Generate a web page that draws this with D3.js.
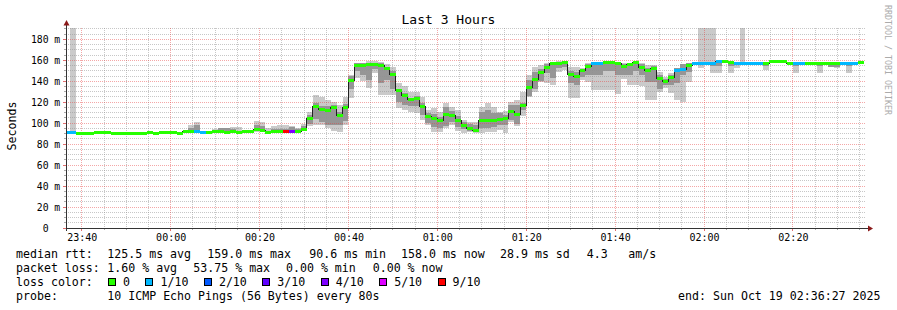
<!DOCTYPE html>
<html>
<head>
<meta charset="utf-8">
<script src="https://cdn.jsdelivr.net/npm/d3@7"></script>
<style>
  body { margin: 0; background: #fff; }
  svg text { font-family: "DejaVu Sans Mono", monospace; fill: #000; }
</style>
</head>
<body>
<div class="canvas"></div>
<script>
// time window and rrd step (80s, one value per step)
const startTime = new Date(2025, 9, 18, 23, 36, 27)
const endTime = new Date(2025, 9, 19, 2, 36, 27)
const firstStep = new Date(2025, 9, 18, 23, 36, 0)
const stepSec = 80

// median rtt per step (ms)
const median = [
  91.0, 91.0, 90.6, 90.6, 90.6, 91.2, 91.2, 91.2, 90.6, 90.6,
  90.6, 90.6, 90.6, 90.6, 91.2, 90.6, 91.2, 91.2, 91.2, 90.6,
  91.6, 92.2, 92.2, 91.0, 91.2, 92.0, 91.8, 91.5, 92.0, 91.5,
  91.6, 91.8, 93.6, 92.8, 91.5, 91.6, 91.6, 91.6, 91.6, 92.3,
  94.3, 104.0, 115.8, 113.0, 112.3, 114.8, 107.8, 115.2, 140.8, 155.5,
  155.3, 156.0, 156.0, 155.5, 152.0, 146.7, 130.8, 126.3, 122.2, 123.3,
  116.0, 106.3, 104.8, 102.2, 108.4, 107.5, 102.8, 97.8, 94.5, 93.2,
  102.8, 103.0, 102.5, 103.3, 104.0, 111.5, 108.6, 117.0, 134.5, 141.5,
  148.5, 153.5, 156.5, 157.0, 157.5, 146.3, 144.4, 150.2, 154.0, 157.4,
  157.4, 158.3, 158.3, 156.5, 153.6, 155.8, 158.2, 153.5, 149.8, 152.0,
  142.3, 139.5, 143.5, 150.0, 151.5, 155.0, 157.4, 157.4, 157.4, 157.4,
  159.0, 158.8, 157.8, 157.4, 157.4, 157.4, 157.4, 157.4, 157.4, 158.6,
  158.6, 158.6, 157.4, 157.4, 157.4, 157.4, 157.4, 157.4, 157.4, 157.4,
  157.4, 157.4, 157.4, 157.4, 158.0
]

// lost pings out of 10 per step
const loss = [
  1, 1, 0, 0, 0, 0, 0, 0, 0, 0,
  0, 0, 0, 0, 0, 0, 0, 0, 0, 0,
  0, 0, 1, 1, 0, 0, 0, 0, 0, 0,
  0, 0, 0, 0, 0, 0, 0, 9, 4, 0,
  0, 0, 0, 0, 0, 0, 0, 0, 0, 0,
  0, 0, 0, 0, 0, 0, 0, 0, 0, 0,
  0, 0, 0, 0, 0, 0, 0, 0, 0, 0,
  0, 0, 0, 0, 0, 0, 0, 0, 0, 0,
  0, 0, 0, 0, 0, 0, 0, 0, 0, 1,
  1, 0, 0, 0, 0, 0, 0, 0, 0, 0,
  0, 0, 0, 1, 1, 0, 1, 1, 1, 1,
  1, 0, 0, 1, 1, 1, 1, 1, 0, 0,
  0, 0, 0, 1, 1, 0, 0, 0, 0, 0,
  0, 1, 1, 1, 0
]

// smoke: slowest / fastest ping and the inner band
const smokeMin = [
  91.0, 91.0, 90.6, 90.6, 90.6, 91.2, 91.2, 91.2, 90.6, 90.6,
  90.6, 90.6, 90.6, 90.6, 91.2, 90.6, 91.2, 91.2, 91.2, 90.6,
  91.0, 91.5, 91.5, 91.0, 91.2, 91.5, 91.0, 91.0, 91.0, 90.8,
  91.0, 91.0, 92.0, 91.5, 91.0, 91.0, 91.0, 91.0, 91.0, 91.5,
  92.5, 97.5, 98.5, 98.5, 95.2, 93.0, 91.5, 98.4, 124.0, 143.0,
  140.0, 133.3, 147.6, 127.0, 127.0, 127.0, 114.5, 112.7, 111.0, 109.5,
  103.2, 98.4, 92.0, 92.0, 95.2, 98.4, 92.5, 91.0, 92.0, 90.5,
  91.0, 92.0, 92.0, 93.6, 91.0, 101.6, 97.0, 106.4, 125.4, 130.0,
  139.7, 138.0, 136.5, 149.0, 150.8, 124.0, 124.0, 141.0, 139.7, 132.0,
  132.0, 132.0, 132.0, 127.5, 142.0, 136.5, 136.5, 135.0, 122.2, 122.2,
  130.0, 133.3, 128.5, 122.0, 120.6, 139.7, 156.0, 153.0, 156.0, 148.0,
  147.6, 157.0, 148.0, 153.0, 156.5, 157.0, 156.8, 157.0, 151.0, 158.0,
  157.0, 158.0, 157.0, 148.0, 157.0, 157.0, 157.0, 148.0, 157.0, 154.0,
  153.0, 157.0, 147.5, 157.0, 157.6
]
const smokeLo = [
  91.0, 91.0, 90.6, 90.6, 90.6, 91.2, 91.2, 91.2, 90.6, 90.6,
  90.6, 90.6, 90.6, 90.6, 91.2, 90.6, 91.2, 91.2, 91.2, 90.6,
  91.2, 92.0, 92.0, 91.0, 91.2, 91.8, 91.5, 91.2, 91.5, 91.0,
  91.2, 91.5, 93.0, 92.0, 91.2, 91.3, 91.3, 91.3, 91.3, 92.0,
  93.0, 99.0, 104.0, 101.6, 98.4, 98.4, 98.0, 102.0, 133.0, 150.0,
  146.0, 141.0, 152.0, 138.0, 141.0, 133.0, 120.0, 117.5, 116.0, 116.0,
  108.0, 100.0, 96.0, 95.0, 97.0, 101.6, 96.0, 94.0, 93.0, 92.0,
  95.0, 95.0, 96.0, 98.4, 98.4, 103.0, 99.0, 112.7, 126.0, 133.0,
  140.0, 148.0, 142.8, 153.0, 154.0, 138.0, 136.0, 144.0, 146.0, 146.0,
  146.0, 150.0, 150.0, 146.0, 146.0, 146.0, 150.0, 146.0, 139.7, 139.7,
  133.0, 136.0, 136.0, 138.0, 146.0, 149.0, 157.0, 156.0, 157.0, 155.0,
  155.0, 158.0, 155.0, 156.0, 157.0, 157.2, 157.0, 157.2, 155.0, 158.3,
  158.0, 158.3, 157.2, 155.0, 157.2, 157.2, 157.2, 155.0, 157.2, 154.0,
  154.0, 157.2, 155.0, 157.2, 157.8
]
const smokeHi = [
  91.0, 91.0, 90.6, 90.6, 90.6, 91.2, 91.2, 91.2, 90.6, 90.6,
  90.6, 90.6, 90.6, 90.6, 91.2, 90.6, 91.2, 91.2, 91.2, 90.6,
  93.0, 95.5, 98.5, 91.0, 91.2, 93.0, 95.0, 95.0, 94.0, 93.0,
  92.5, 93.5, 98.0, 97.5, 93.0, 94.0, 94.5, 94.0, 96.0, 94.5,
  97.0, 108.0, 119.0, 116.0, 116.0, 117.0, 111.0, 118.0, 145.0, 157.0,
  157.0, 157.5, 157.5, 157.0, 154.0, 150.0, 133.0, 129.0, 124.0, 126.0,
  119.0, 110.0, 109.0, 106.0, 115.0, 112.0, 107.0, 101.0, 99.0, 98.0,
  111.0, 112.7, 109.5, 109.5, 108.0, 117.0, 117.0, 119.0, 141.0, 149.0,
  152.0, 156.5, 157.5, 158.0, 158.0, 150.0, 149.0, 151.0, 156.0, 157.4,
  157.0, 158.3, 158.3, 157.0, 156.0, 156.0, 158.2, 156.0, 153.0, 155.0,
  146.0, 142.0, 146.0, 152.3, 156.0, 157.0, 157.8, 158.0, 158.0, 158.0,
  159.0, 159.0, 158.0, 157.8, 158.0, 157.8, 157.8, 157.6, 158.0, 158.8,
  158.8, 158.8, 157.6, 158.0, 157.6, 157.6, 157.6, 158.0, 157.6, 158.0,
  158.0, 157.6, 158.0, 157.6, 158.2
]
const smokeMax = [
  91.0, 195.0, 90.6, 90.6, 90.6, 91.2, 91.2, 91.2, 90.6, 90.6,
  90.6, 90.6, 90.6, 90.6, 91.2, 90.6, 91.2, 91.2, 91.2, 90.6,
  93.5, 98.5, 101.5, 91.0, 91.2, 94.0, 95.5, 95.5, 96.5, 96.5,
  93.0, 93.5, 101.7, 101.5, 95.5, 97.0, 98.0, 98.0, 97.0, 95.5,
  99.0, 110.5, 127.0, 125.0, 122.0, 120.5, 117.0, 125.4, 146.0, 157.5,
  157.5, 159.0, 159.0, 158.0, 156.0, 154.0, 138.0, 135.0, 130.0, 130.0,
  125.4, 112.7, 114.3, 111.0, 119.0, 115.8, 112.7, 103.2, 101.6, 101.6,
  115.8, 119.0, 115.8, 111.0, 111.7, 120.6, 122.0, 130.0, 146.0, 154.0,
  155.6, 157.3, 158.0, 159.0, 158.5, 154.0, 154.0, 152.5, 157.3, 157.5,
  157.5, 158.5, 158.5, 157.0, 157.0, 157.0, 158.5, 157.5, 155.6, 155.6,
  149.0, 144.4, 147.6, 153.0, 156.5, 157.5, 158.0, 195.0, 195.0, 195.0,
  159.5, 159.2, 158.3, 158.0, 195.0, 158.0, 158.0, 157.8, 158.0, 159.0,
  159.0, 159.0, 157.8, 158.0, 157.8, 157.8, 157.8, 158.0, 157.8, 158.0,
  158.0, 157.8, 158.0, 157.8, 158.4
]

// loss colour legend
const lossEdges = [0, 1, 2, 3, 4, 5, 9]
const lossLabels = ['0', '1/10', '2/10', '3/10', '4/10', '5/10', '9/10']
const lossColors = ['#26ff00', '#00b8ff', '#0059ff', '#5e00ff', '#7e00ff', '#dd00ff', '#ff0000']

const yTicks = [0, 20, 40, 60, 80, 100, 120, 140, 160, 180]

const dims = { width: 897, height: 310, left: 66, right: 866, top: 28, bottom: 228 }

const svg = d3.select('.canvas').append('svg')
  .attr('width', dims.width)
  .attr('height', dims.height)

const x = d3.scaleTime()
  .domain([startTime, endTime])
  .range([dims.left, dims.right])

const y = d3.scaleLinear()
  .domain([0, 190.8])
  .range([dims.bottom, dims.top])

const px = v => Math.floor(v) + 0.5

svg.append('clipPath').attr('id', 'plot')
  .append('rect')
  .attr('x', dims.left + 1).attr('y', dims.top)
  .attr('width', dims.right - dims.left - 1).attr('height', dims.bottom - dims.top)

const steps = median.map((m, i) => ({
  i,
  t0: new Date(firstStep.getTime() + i * stepSec * 1000),
  t1: new Date(firstStep.getTime() + (i + 1) * stepSec * 1000),
  median: m,
  loss: loss[i],
  min: smokeMin[i], lo: smokeLo[i], hi: smokeHi[i], max: smokeMax[i]
}))

const graph = svg.append('g').attr('clip-path', 'url(#plot)')

// smoke, outer band then inner band
graph.append('g').selectAll('rect')
  .data(steps.filter(d => d.max > d.min))
  .join('rect')
  .attr('x', d => x(d.t0))
  .attr('width', d => x(d.t1) - x(d.t0))
  .attr('y', d => y(d.max))
  .attr('height', d => y(d.min) - y(d.max))
  .attr('fill', '#cacaca')
  .attr('shape-rendering', 'crispEdges')

graph.append('g').selectAll('rect')
  .data(steps.filter(d => d.hi > d.lo))
  .join('rect')
  .attr('x', d => x(d.t0))
  .attr('width', d => x(d.t1) - x(d.t0))
  .attr('y', d => y(d.hi))
  .attr('height', d => y(d.lo) - y(d.hi))
  .attr('fill', '#969696')
  .attr('shape-rendering', 'crispEdges')

// grid
const grid = svg.append('g').attr('shape-rendering', 'crispEdges')
const minorX = d3.timeMinute.every(5).range(startTime, endTime)
const majorX = d3.timeMinute.every(20).range(startTime, endTime)

grid.selectAll('.vminor')
  .data(minorX.filter(t => t.getMinutes() % 20 !== 0))
  .join('line')
  .attr('x1', d => px(x(d))).attr('x2', d => px(x(d)))
  .attr('y1', dims.top).attr('y2', dims.bottom)
  .attr('stroke', 'rgba(143,143,143,0.5)')
  .attr('stroke-dasharray', '1,1')

const minorY = d3.range(5, 191, 5).filter(v => v % 20 !== 0)
grid.selectAll('.hminor')
  .data(minorY)
  .join('line')
  .attr('x1', dims.left).attr('x2', dims.right)
  .attr('y1', d => px(y(d))).attr('y2', d => px(y(d)))
  .attr('stroke', 'rgba(143,143,143,0.5)')
  .attr('stroke-dasharray', '1,1')

grid.selectAll('.vmajor')
  .data(majorX)
  .join('line')
  .attr('x1', d => px(x(d))).attr('x2', d => px(x(d)))
  .attr('y1', dims.top).attr('y2', dims.bottom)
  .attr('stroke', 'rgba(230,60,60,0.45)')
  .attr('stroke-dasharray', '1,1')

grid.selectAll('.hmajor')
  .data(yTicks.filter(v => v > 0))
  .join('line')
  .attr('x1', dims.left).attr('x2', dims.right)
  .attr('y1', d => px(y(d))).attr('y2', d => px(y(d)))
  .attr('stroke', 'rgba(230,60,60,0.45)')
  .attr('stroke-dasharray', '1,1')

// median line, then the loss coloured bands
const medianPoints = steps.map(d => [x(d.t0), y(d.median)])
const last = steps[steps.length - 1]
medianPoints.push([x(last.t1), y(last.median)])

const plotTop = svg.append('g').attr('clip-path', 'url(#plot)')

plotTop.append('path')
  .attr('d', d3.line().curve(d3.curveStepAfter)(medianPoints))
  .attr('fill', 'none')
  .attr('stroke', '#202020')
  .attr('stroke-width', 1)
  .attr('shape-rendering', 'crispEdges')

const lossIndex = l => {
  let k = 0
  lossEdges.forEach((e, i) => { if (l >= e) k = i })
  return k
}

plotTop.append('g').selectAll('rect')
  .data(steps)
  .join('rect')
  .attr('x', d => x(d.t0))
  .attr('width', d => x(d.t1) - x(d.t0))
  .attr('y', d => Math.round(y(d.median) - 1.5))
  .attr('height', 3)
  .attr('fill', d => lossColors[lossIndex(d.loss)])
  .attr('shape-rendering', 'crispEdges')

// axes
const axisColor = '#333'
const arrowColor = '#8b1a1a'

svg.append('line')
  .attr('x1', dims.left + 0.5).attr('x2', dims.left + 0.5)
  .attr('y1', dims.bottom + 3).attr('y2', 22)
  .attr('stroke', axisColor)
svg.append('path')
  .attr('d', `M${dims.left - 2.5},25.5 L${dims.left + 3.5},25.5 L${dims.left + 0.5},20 Z`)
  .attr('fill', arrowColor)

svg.append('line')
  .attr('x1', dims.left - 3).attr('x2', dims.right + 4)
  .attr('y1', dims.bottom + 0.5).attr('y2', dims.bottom + 0.5)
  .attr('stroke', axisColor)
svg.append('path')
  .attr('d', `M${dims.right + 2},${dims.bottom - 2.5} L${dims.right + 2},${dims.bottom + 3.5} L${dims.right + 7},${dims.bottom + 0.5} Z`)
  .attr('fill', arrowColor)

// ticks on axes
svg.append('g').selectAll('line')
  .data(minorX)
  .join('line')
  .attr('x1', d => px(x(d))).attr('x2', d => px(x(d)))
  .attr('y1', dims.bottom + 1).attr('y2', d => dims.bottom + (d.getMinutes() % 20 === 0 ? 3 : 2))
  .attr('stroke', d => d.getMinutes() % 20 === 0 ? '#e07070' : '#aaa')
  .attr('shape-rendering', 'crispEdges')

svg.append('g').selectAll('line')
  .data(d3.range(0, 191, 5))
  .join('line')
  .attr('x1', d => d % 20 === 0 ? dims.left - 3 : dims.left - 2).attr('x2', dims.left)
  .attr('y1', d => px(y(d))).attr('y2', d => px(y(d)))
  .attr('stroke', d => d % 20 === 0 ? '#e07070' : '#aaa')
  .attr('shape-rendering', 'crispEdges')

// tick labels
const yLabels = svg.append('g').style('font-size', '9.8px')
yLabels.selectAll('.num')
  .data(yTicks)
  .join('text')
  .attr('x', 48.6)
  .attr('y', d => y(d) + 3.6)
  .attr('text-anchor', 'end')
  .text(d => d)
yLabels.selectAll('.unit')
  .data(yTicks.filter(v => v > 0))
  .join('text')
  .attr('x', 54.2)
  .attr('y', d => y(d) + 3.6)
  .text('m')

svg.append('g').style('font-size', '10px')
  .selectAll('text')
  .data(majorX)
  .join('text')
  .attr('x', d => x(d) + 0.5)
  .attr('y', 241)
  .attr('text-anchor', 'middle')
  .text(d3.timeFormat('%H:%M'))

// titles
svg.append('text')
  .attr('x', 448.5).attr('y', 23.5)
  .attr('text-anchor', 'middle')
  .style('font-size', '13px')
  .text('Last 3 Hours')

svg.append('text')
  .attr('transform', 'translate(16,126) rotate(-90)')
  .attr('text-anchor', 'middle')
  .style('font-size', '11.6px')
  .text('Seconds')

svg.append('text')
  .attr('transform', 'translate(884.5,5) rotate(90)')
  .style('font-size', '8.3px')
  .style('fill', '#ababab')
  .text('RRDTOOL / TOBI OETIKER')

// legend
const legendRows = [
  [['median rtt:', 16], ['125.5 ms avg', 107.3], ['159.0 ms max', 207.3], ['90.6 ms min', 309.3],
   ['158.0 ms now', 401], ['28.9 ms sd', 500], ['4.3', 586.7], ['am/s', 628.3]],
  [['packet loss:', 16], ['1.60 % avg', 107.3], ['53.75 % max', 193.3], ['0.00 % min', 286], ['0.00 % now', 372.7]],
  [['loss color:', 16]],
  [['probe:', 16], ['10 ICMP Echo Pings (56 Bytes) every 80s', 107.3]]
]
const legend = svg.append('g').style('font-size', '11.6px')
legendRows.forEach((row, r) => {
  row.forEach(([txt, lx]) => {
    legend.append('text')
      .attr('x', lx).attr('y', 258 + r * 14)
      .text(txt)
  })
})

legend.append('text')
  .attr('x', 880.5).attr('y', 300)
  .attr('text-anchor', 'end')
  .text('end: Sun Oct 19 02:36:27 2025')

let bx = 108.5
lossLabels.forEach((lab, i) => {
  legend.append('rect')
    .attr('x', bx).attr('y', 278.5)
    .attr('width', 7).attr('height', 7)
    .attr('fill', lossColors[i])
    .attr('stroke', '#000')
    .attr('stroke-width', 1)
    .attr('shape-rendering', 'crispEdges')
  const t = legend.append('text')
    .attr('x', bx + 14.5).attr('y', 286)
    .text(lab)
  bx = bx + 14.5 + t.node().getComputedTextLength() + 16
})
</script>
</body>
</html>
